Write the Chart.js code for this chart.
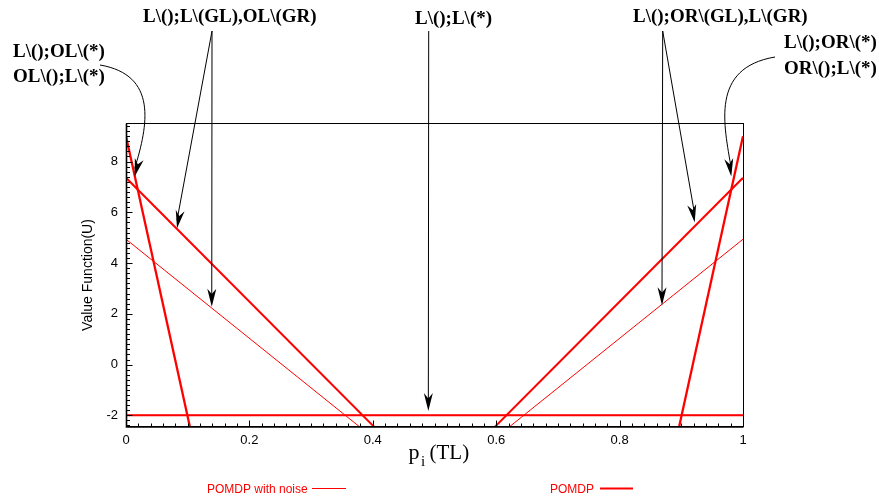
<!DOCTYPE html>
<html>
<head>
<meta charset="utf-8">
<script src="https://cdn.jsdelivr.net/npm/chart.js@4/dist/chart.umd.min.js"></script>
<style>
  html, body { margin: 0; padding: 0; background: #ffffff; }
  #c { display: block; }
</style>
</head>
<body>
<canvas id="c" width="879" height="497"></canvas>
<script>
// ---------------- data ----------------
const xTicks = [0, 0.2, 0.4, 0.6, 0.8, 1];
const xTickLabels = ['0', '0.2', '0.4', '0.6', '0.8', '1'];
const yTicks = [-2, 0, 2, 4, 6, 8];
const yTickLabels = ['-2', '0', '2', '4', '6', '8'];
const seriesLabels = ['POMDP with noise', 'POMDP'];

// belief p_i(TL) and value U at the two visible ends of each alpha-vector line
const noiseLeftP  = [0, 0.381];   const noiseLeftU  = [4.94, -2.5];
const noiseRightP = [0.619, 1];   const noiseRightU = [-2.5, 4.94];
const pomdpLeftP  = [0, 0.404];   const pomdpLeftU  = [7.36, -2.5];
const pomdpRightP = [0.596, 1];   const pomdpRightU = [-2.5, 7.36];
const openLeftP   = [0, 0.104];   const openLeftU   = [9.0, -2.5];
const openRightP  = [0.896, 1];   const openRightU  = [-2.5, 9.0];
const listenP     = [0, 1];       const listenU     = [-2, -2];

// annotation texts and the data points their arrows point at
const annTexts = [
  ['L\\();OL\\(*)', 'OL\\();L\\(*)'],
  ['L\\();L\\(GL),OL\\(GR)'],
  ['L\\();L\\(*)'],
  ['L\\();OR\\(GL),L\\(GR)'],
  ['L\\();OR\\(*)', 'OR\\();L\\(*)']
];
const annTargetsP = [[0.0141], [0.0827, 0.139], [0.49], [0.9217, 0.8687], [0.981]];
const annTargetsU = [[7.41],   [5.37, 2.28],    [-1.83], [5.6, 2.34],     [7.41]];

// ---------------- layout (pixels) ----------------
const annLayout = [
  { x: 13,  base: [57, 82], from: [100, 65], curve: [[158, 75], [148, 125]] },
  { x: 143, base: [22],     from: [212, 31] },
  { x: 415, base: [24],     from: [428.7, 31] },
  { x: 633, base: [22],     from: [662.7, 31] },
  { x: 784, base: [48, 74], from: [775, 57], curve: [[710, 68], [724, 125]] }
];
const legendLayout = [
  { x: 207, line: [312, 346], width: 1 },
  { x: 550, line: [600, 633], width: 2 }
];
const legendY = 488.5;

const pts = (P, U) => P.map((p, i) => ({ x: p, y: U[i] }));
const base = { borderColor: '#ff0000', pointRadius: 0, showLine: true, fill: false, tension: 0 };

const datasets = [
  { label: seriesLabels[1], data: pts(pomdpLeftP, pomdpLeftU), borderWidth: 2, ...base },
  { label: seriesLabels[1], data: pts(pomdpRightP, pomdpRightU), borderWidth: 2, ...base },
  { label: seriesLabels[1], data: pts(openLeftP, openLeftU), borderWidth: 2.3, ...base },
  { label: seriesLabels[1], data: pts(openRightP, openRightU), borderWidth: 2.3, ...base },
  { label: seriesLabels[1], data: pts(listenP, listenU), borderWidth: 2, ...base },
  { label: seriesLabels[0], data: pts(noiseLeftP, noiseLeftU), borderWidth: 1, ...base },
  { label: seriesLabels[0], data: pts(noiseRightP, noiseRightU), borderWidth: 1, ...base },
  { label: seriesLabels[0], data: pts(listenP, listenU), borderWidth: 1, ...base }
];

// ---------------- plugins ----------------
const framePlugin = {
  id: 'frame',
  afterDatasetsDraw(chart) {
    const { ctx, chartArea: a, scales: { x, y } } = chart;
    ctx.save();
    ctx.strokeStyle = '#000';
    ctx.lineWidth = 1;
    const L = Math.round(a.left) + 0.5, R = Math.round(a.right) + 0.5;
    const T = Math.round(a.top) + 0.5, B = Math.round(a.bottom) - 0.5;
    ctx.strokeRect(L, T, R - L, B - T);
    ctx.lineWidth = 1.6;
    ctx.beginPath(); ctx.moveTo(L, T); ctx.lineTo(L, B + 0.5); ctx.lineTo(R, B + 0.5); ctx.stroke();
    ctx.lineWidth = 1;
    ctx.beginPath();
    for (let k = 0; k <= 50; k++) {
      const px = Math.round(x.getPixelForValue(k * 0.02)) + 0.5;
      const len = k % 10 === 0 ? 6 : 3;
      ctx.moveTo(px, B); ctx.lineTo(px, B - len);
    }
    for (let k = -12; k <= 47; k++) {
      const py = Math.round(y.getPixelForValue(k * 0.2)) + 0.5;
      const len = k % 10 === 0 ? 6 : 3.5;
      ctx.moveTo(L, py); ctx.lineTo(L + len, py);
    }
    ctx.stroke();
    ctx.restore();
  },
  afterDraw(chart) {
    const { ctx, scales: { x, y } } = chart;
    ctx.save();
    // x-axis title  p_i(TL)
    ctx.fillStyle = '#000';
    ctx.textBaseline = 'alphabetic';
    ctx.font = '22px "Liberation Serif"';
    ctx.fillText('p', 408.5, 459);
    ctx.font = '15px "Liberation Serif"';
    ctx.fillText('i', 421, 466);
    ctx.font = '21px "Liberation Serif"';
    ctx.fillText('(TL)', 429.5, 459);

    // legend
    ctx.font = '12px "Liberation Sans"';
    legendLayout.forEach((lg, i) => {
      ctx.fillStyle = '#ff0000';
      ctx.fillText(seriesLabels[i], lg.x, legendY + 4.5);
      ctx.strokeStyle = '#ff0000';
      ctx.lineWidth = lg.width;
      ctx.beginPath(); ctx.moveTo(lg.line[0], legendY); ctx.lineTo(lg.line[1], legendY); ctx.stroke();
    });

    // annotations
    const head = (tx, ty, dx, dy) => {
      const n = Math.hypot(dx, dy); dx /= n; dy /= n;
      const Lh = 18, W = 4.5, N = 0.7, nx = -dy, ny = dx;
      ctx.beginPath();
      ctx.moveTo(tx, ty);
      ctx.lineTo(tx - dx * Lh + nx * W, ty - dy * Lh + ny * W);
      ctx.lineTo(tx - dx * Lh * N, ty - dy * Lh * N);
      ctx.lineTo(tx - dx * Lh - nx * W, ty - dy * Lh - ny * W);
      ctx.closePath();
      ctx.fill();
    };
    ctx.font = 'bold 19px "Liberation Serif"';
    ctx.fillStyle = '#000';
    ctx.strokeStyle = '#000';
    ctx.lineWidth = 1;
    annLayout.forEach((an, i) => {
      annTexts[i].forEach((t, j) => ctx.fillText(t, an.x, an.base[j]));
      annTargetsP[i].forEach((p, j) => {
        const tx = x.getPixelForValue(p), ty = y.getPixelForValue(annTargetsU[i][j]);
        const [sx, sy] = an.from;
        ctx.beginPath();
        ctx.moveTo(sx, sy);
        if (an.curve) {
          const [c1, c2] = an.curve;
          ctx.bezierCurveTo(c1[0], c1[1], c2[0], c2[1], tx, ty - 8);
          ctx.stroke();
          head(tx, ty, tx - c2[0], ty - c2[1]);
        } else {
          ctx.lineTo(tx, ty - 8);
          ctx.stroke();
          head(tx, ty, tx - sx, ty - sy);
        }
      });
    });
    ctx.restore();
  }
};

new Chart(document.getElementById('c'), {
  type: 'scatter',
  data: { datasets },
  options: {
    responsive: false,
    animation: false,
    devicePixelRatio: 1,
    layout: { padding: { left: 0, right: 136, top: 123, bottom: 0 } },
    plugins: { legend: { display: false }, tooltip: { enabled: false } },
    scales: {
      x: {
        type: 'linear', min: 0, max: 1,
        afterBuildTicks: s => { s.ticks = xTicks.map(v => ({ value: v })); },
        afterFit: s => { s.height = 70; },
        grid: { display: false, drawTicks: false },
        border: { display: false },
        ticks: {
          autoSkip: false, maxRotation: 0, padding: 6, color: '#000',
          font: { family: 'Liberation Sans', size: 13 },
          callback: (v, i) => xTickLabels[i]
        }
      },
      y: {
        type: 'linear', min: -2.46, max: 9.52,
        afterBuildTicks: s => { s.ticks = yTicks.map(v => ({ value: v })); },
        afterFit: s => { s.width = 126; },
        grid: { display: false, drawTicks: false },
        border: { display: false },
        ticks: {
          autoSkip: false, padding: 8, color: '#000',
          font: { family: 'Liberation Sans', size: 13 },
          callback: (v, i) => yTickLabels[i]
        },
        title: {
          display: true, text: 'Value Function(U)', color: '#000',
          font: { family: 'Liberation Sans', size: 14 },
          padding: { top: 79.6, bottom: 0 }
        }
      }
    }
  },
  plugins: [framePlugin]
});
</script>
</body>
</html>
